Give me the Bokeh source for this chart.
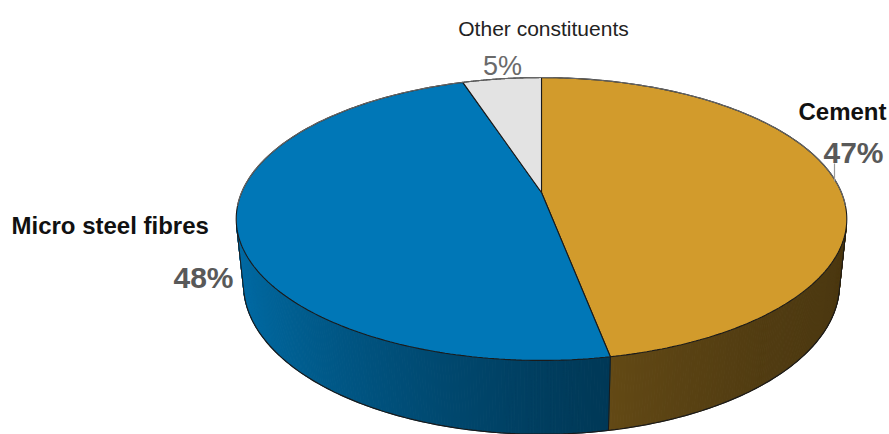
import numpy as np
from bokeh.plotting import figure
from bokeh.models import Range1d
from bokeh.core.properties import value
from bokeh.embed import file_html
from bokeh.resources import INLINE

# ---- data ----
categories = ["Cement", "Micro steel fibres", "Other constituents"]
values = [47, 48, 5]
pct_labels = ["47%", "48%", "5%"]
top_colors = ["#D29B2C", "#0077B7", "#E3E3E3"]

# ---- geometry of the perspective pie (layout) ----
W, H = 889, 434
CX, CY = 541.0, 192.0
FOC = 1426.0
DIST = 4.755
SIN_T, COS_T = 0.455, 0.8905
DEPTH = 0.246


def proj(X, Y, Z):
    d = DIST + Y * COS_T - Z * SIN_T
    up = Y * SIN_T + Z * COS_T
    return CX + FOC * X / d, CY - FOC * up / d


def hex_to_rgb(h):
    h = h.lstrip("#")
    return tuple(int(h[i:i + 2], 16) for i in (0, 2, 4))


def shade(hexcol, f):
    r, g, b = hex_to_rgb(hexcol)
    return "#%02x%02x%02x" % (int(round(r * f)), int(round(g * f)), int(round(b * f)))


total = float(sum(values))
bounds = [90.0]
for v in values:
    bounds.append(bounds[-1] - 360.0 * v / total)

p = figure(width=W, height=H, x_range=Range1d(0, W), y_range=Range1d(H, 0),
           output_backend="svg", toolbar_location=None, min_border=0,
           x_axis_type=None, y_axis_type=None)
p.grid.visible = False
p.outline_line_color = None
p.background_fill_color = "white"

# visible side range
s0 = -1.0 / (DIST * COS_T)
a_vis_hi = np.degrees(np.arcsin(s0))          # about -13.7
a_vis_lo = -180.0 - a_vis_hi                  # about -166.3

# ---- side quads ----
qx, qy, qc = [], [], []
for i in range(len(values)):
    hi, lo = bounds[i], bounds[i + 1]
    s_hi = min(hi, a_vis_hi)
    s_lo = max(lo, a_vis_lo)
    if s_hi <= s_lo:
        continue
    n = max(2, int((s_hi - s_lo) / 0.5) + 1)
    edges = np.linspace(s_hi, s_lo, n)
    for a1, a2 in zip(edges[:-1], edges[1:]):
        r1, r2 = np.radians(a1), np.radians(a2)
        tx1, ty1 = proj(np.cos(r1), np.sin(r1), 0.0)
        tx2, ty2 = proj(np.cos(r2), np.sin(r2), 0.0)
        bx1, by1 = proj(np.cos(r1), np.sin(r1), -DEPTH)
        bx2, by2 = proj(np.cos(r2), np.sin(r2), -DEPTH)
        xm = np.cos(np.radians((a1 + a2) / 2))
        f = 0.36 + 0.56 * ((1 - xm) / 2) ** 1.8
        qx.append([tx1, tx2, bx2, bx1])
        qy.append([ty1, ty2, by2, by1])
        qc.append(shade(top_colors[i], f))

p.patches(qx, qy, fill_color=qc, line_color=qc, line_width=1.0)

# side outlines
arc = np.radians(np.linspace(a_vis_hi, a_vis_lo, 200))
bx, by = proj(np.cos(arc), np.sin(arc), -DEPTH)
p.line(bx, by, line_color="#1a1a1a", line_width=1.2)
edge_angles = [a_vis_hi, a_vis_lo] + [b for b in bounds if a_vis_lo < b < a_vis_hi]
for a in edge_angles:
    r = np.radians(a)
    x0, y0 = proj(np.cos(r), np.sin(r), 0.0)
    x1, y1 = proj(np.cos(r), np.sin(r), -DEPTH)
    p.line([x0, x1], [y0, y1], line_color="#1a1a1a", line_width=1.0)

# ---- top face slices ----
sx, sy = [], []
for i in range(len(values)):
    ang = np.radians(np.linspace(bounds[i], bounds[i + 1], 200))
    ax, ay = proj(np.cos(ang), np.sin(ang), 0.0)
    sx.append([CX] + list(ax))
    sy.append([CY] + list(ay))
p.patches(sx, sy, fill_color=top_colors, line_color="#1a1a1a", line_width=1.1)

# lighter far rim of the top face
rim = np.radians(np.linspace(a_vis_hi + 8, a_vis_lo - 8 + 360, 200))
rx, ry = proj(np.cos(rim), np.sin(rim), 0.0)
p.line(rx, ry, line_color="#666666", line_width=1.1)

# ---- labels ----
FONT = value("Liberation Sans")
p.text(x=[543], y=[28], text=[categories[2]], text_font=FONT,
       text_font_size=value("21px"), text_color="#222222",
       text_align="center", text_baseline="alphabetic")
p.text(x=[502], y=[65], text=[pct_labels[2]], text_font=FONT,
       text_font_size=value("27px"), text_color="#6a6a6a",
       text_align="center", text_baseline="alphabetic")

p.text(x=[886], y=[111], text=[categories[0]], text_font=FONT,
       text_font_size=value("24px"), text_font_style="bold", text_color="#111111",
       text_align="right", text_baseline="alphabetic")
p.text(x=[883], y=[152], text=[pct_labels[0]], text_font=FONT,
       text_font_size=value("30px"), text_font_style="bold", text_color="#595959",
       text_align="right", text_baseline="alphabetic")
p.line([834, 834], [163, 181], line_color="#9a9a9a", line_width=1.2)

p.text(x=[11], y=[225], text=[categories[1]], text_font=FONT,
       text_font_size=value("24px"), text_font_style="bold", text_color="#111111",
       text_align="left", text_baseline="alphabetic")
p.text(x=[233], y=[277], text=[pct_labels[1]], text_font=FONT,
       text_font_size=value("30px"), text_font_style="bold", text_color="#595959",
       text_align="right", text_baseline="alphabetic")

open("out.html", "w").write(file_html(p, INLINE))
